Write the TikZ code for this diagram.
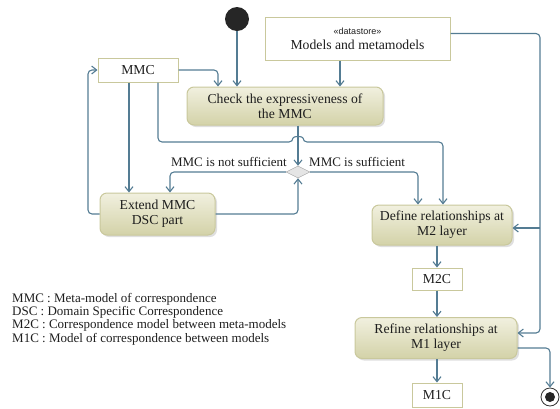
\documentclass[tikz,border=0pt]{standalone}
\usepackage{fontspec}
\setmainfont{Liberation Serif}
\newfontfamily\stereofont{Liberation Sans}
\usetikzlibrary{arrows.meta,shapes.geometric,shadows}
\definecolor{flowline}{HTML}{547C93}
\definecolor{boxline}{HTML}{C9C89C}
\definecolor{acttop}{HTML}{F1F0DF}
\definecolor{actbottom}{HTML}{D3D2A8}
\definecolor{inkdark}{HTML}{1E1E1E}
\begin{document}
\begin{tikzpicture}[x = 1pt, y = -1pt,
        every node/.append style = {font = \fontsize{13.7}{15}\selectfont, text = inkdark},
        action/.style = {draw = boxline, line width = 1pt, rounded corners = 7pt, top color = acttop, bottom color = actbottom,
            drop shadow = {opacity = 0.25, shadow xshift = 2pt, shadow yshift = -2pt}, align = center, inner sep = 0pt},
        object/.style = {draw = boxline, line width = 1pt, fill = white, align = center, inner sep = 0pt},
        flow/.style = {draw = flowline, line width = 1.1pt, rounded corners = 4pt, -{Straight Barb[length = 5pt, width = 8pt]}}]
    \useasboundingbox (0,0) rectangle (560,408);
    \begin{scope}
        \node[circle, fill = black!85, minimum size = 24pt, inner sep = 0pt] (start) at (237,19) {};
        \node[object, minimum width = 185pt, minimum height = 43pt] (store) at (357.5,38.5)
            {{\stereofont\fontsize{9}{11}\selectfont «datastore»}\\Models and metamodels};
        \node[object, minimum width = 80pt, minimum height = 24pt] (mmc) at (138,70) {MMC};
        \node[action, minimum width = 196pt, minimum height = 38pt] (check) at (285,106) {Check the expressiveness of\\the MMC};
        \node[diamond, draw = gray!70, fill = gray!20, minimum width = 24pt, minimum height = 12pt, inner sep = 0pt] (choice) at (298,172) {};
        \node[action, minimum width = 115pt, minimum height = 42pt] (extend) at (157.5,214) {Extend MMC\\DSC part};
        \node[action, minimum width = 140pt, minimum height = 40pt] (define) at (442,225) {Define relationships at\\M2 layer};
        \node[object, minimum width = 50pt, minimum height = 22pt] (mtwoc) at (437,279) {M2C};
        \node[action, minimum width = 162pt, minimum height = 41pt] (refine) at (436,338) {Refine relationships at\\M1 layer};
        \node[object, minimum width = 50pt, minimum height = 24pt] (monec) at (437,395) {M1C};
        \node[circle, draw = black!80, thick, fill = white, minimum size = 18pt, inner sep = 0pt] (finish) at (550,397) {};
        \fill[black!85] (finish) circle (5pt);
        \coordinate (rail) at (540,228);
    \end{scope}
    \begin{scope}
        \draw[flow] (start) -- (start |- check.north);
        \draw[flow] (mmc.east) -| (218,0 |- check.north);
        \draw[flow] (340,0 |- store.south) -- (340,0 |- check.north);
        \draw[flow] ([yshift = 5pt]store.east) -| (540,333) -- (refine.east |- 540,333);
        \draw[flow] (rail) -- (rail -| define.east);
        \draw[flow] (129,0 |- mmc.south) -- (129,0 |- extend.north);
        \draw[flow] (158,0 |- mmc.south) -- (158,142) -- (293,142) .. controls (293,136) and (303,136) .. (303,142)
            -- (443,142) -- (443,0 |- define.north);
        \draw[flow] (extend.west) -| (88,0 |- mmc.west) -- (mmc.west);
        \draw[flow] (choice |- check.south) -- (choice.north);
        \draw[flow] (choice.west) -| (170,0 |- extend.north);
        \draw[flow] (choice.east) -| (418,0 |- define.north);
        \draw[flow] (extend.east) -| (choice.south);
        \draw[flow] (mtwoc |- define.south) -- (mtwoc.north);
        \draw[flow] (mtwoc.south) -- (mtwoc |- refine.north);
        \draw[flow] (monec |- refine.south) -- (monec.north);
        \draw[flow] ([yshift = -10pt]refine.east) -| (finish.north);
    \end{scope}
    \begin{scope}[every node/.append style = {inner sep = 0pt, font = \fontsize{13}{14}\selectfont}]
        \node[anchor = south east] (notenough) at (287,167) {MMC is not sufficient};
        \node[anchor = south west] (enough) at (309,167) {MMC is sufficient};
        \node[anchor = north west, align = left, font = \fontsize{13}{13.3}\selectfont] (legend) at (12,293)
            {MMC : Meta-model of correspondence\\DSC : Domain Specific Correspondence\\M2C : Correspondence model between meta-models\\M1C : Model of correspondence between models};
    \end{scope}
\end{tikzpicture}
\end{document}
